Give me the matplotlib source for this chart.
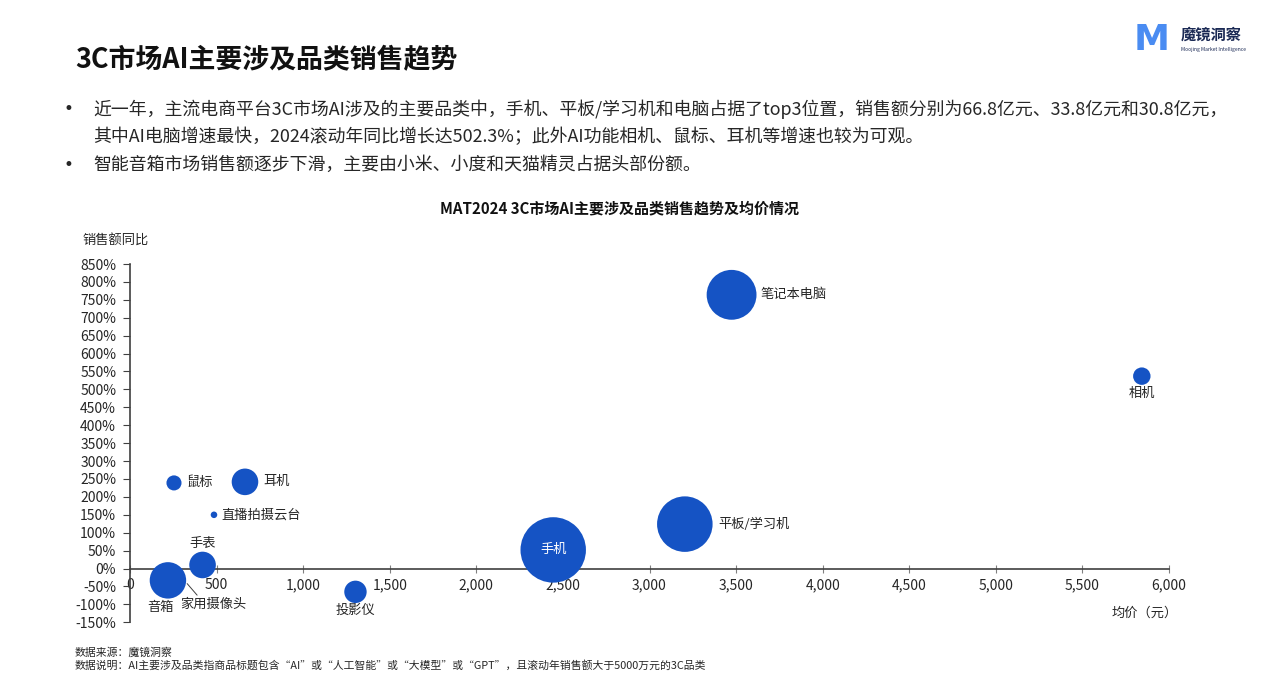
import matplotlib
matplotlib.use('Agg')
import matplotlib.pyplot as plt
from matplotlib.ticker import FuncFormatter, MultipleLocator

plt.rcParams['font.family'] = ['Noto Sans CJK SC', 'DejaVu Sans']
plt.rcParams['axes.unicode_minus'] = False

W, H = 1280, 681

# data
categories = ['笔记本电脑', '相机', '平板/学习机', '手机', '投影仪', '耳机',
              '鼠标', '直播拍摄云台', '手表', '家用摄像头', '音箱']
avg_price = [3474, 5843, 3204, 2444, 1302, 664, 254, 485, 419, 260, 219]
yoy_growth = [764, 537, 124, 52, -65, 242, 239, 150, 10, -30, -33]
bubble_size = [58, 7.1, 72, 100, 11.7, 16.5, 5.3, 1.0, 16.5, 6, 31]

# label placement: (dx, dy in points, ha, va)
label_pos = {
    '笔记本电脑': (21, 0, 'left', 'center'),
    '相机': (0, -8, 'center', 'top'),
    '平板/学习机': (24, 0, 'left', 'center'),
    '手机': (0, 0, 'center', 'center'),
    '投影仪': (0, -9, 'center', 'top'),
    '耳机': (13, 0, 'left', 'center'),
    '鼠标': (9, 0, 'left', 'center'),
    '直播拍摄云台': (5, 0, 'left', 'center'),
    '手表': (0, 11, 'center', 'bottom'),
    '音箱': (-5, -15, 'center', 'top'),
}

blue = '#1553C4'
dark = '#262626'

fig = plt.figure(figsize=(W / 100, H / 100), dpi=100)
fig.patch.set_facecolor('white')


def px(x, y):
    return x / W, 1 - y / H


# headline and bullets
fig.text(*px(75, 60), '3C市场AI主要涉及品类销售趋势', fontsize=19.4,
         fontweight='bold', color='#111111', va='center', ha='left')
bullets = [
    (109, '近一年，主流电商平台3C市场AI涉及的主要品类中，手机、平板/学习机和电脑占据了top3位置，销售额分别为66.8亿元、33.8亿元和30.8亿元，', True),
    (137, '其中AI电脑增速最快，2024滚动年同比增长达502.3%；此外AI功能相机、鼠标、耳机等增速也较为可观。', False),
    (165, '智能音箱市场销售额逐步下滑，主要由小米、小度和天猫精灵占据头部份额。', True),
]
for y, txt, dot in bullets:
    if dot:
        fig.text(*px(64, y), '•', fontsize=12, color=dark, va='center',
                 family='DejaVu Sans')
    fig.text(*px(93, y), txt, fontsize=12.9, color=dark, va='center')

# logo
fig.text(*px(1152, 40), 'M', fontsize=26, fontweight='bold', color='#4a8cf2',
         ha='center', va='center', family='DejaVu Sans')
fig.text(*px(1181, 35), '魔镜洞察', fontsize=11, fontweight='bold',
         color='#1b2a55', va='center')
fig.text(*px(1181, 50), 'Moojing Market Intelligence', fontsize=3.6,
         color='#1b2a55', va='center')

# chart title
fig.text(*px(620, 208), 'MAT2024 3C市场AI主要涉及品类销售趋势及均价情况',
         fontsize=10.8, fontweight='bold', color='#111111', ha='center', va='center')
fig.text(*px(82, 240), '销售额同比', fontsize=9.5, color=dark, va='center')
fig.text(*px(1145, 613), '均价（元）', fontsize=9.5, color=dark, va='center', ha='center')

# footer
fig.text(*px(75, 652), '数据来源：魔镜洞察', fontsize=7.8, color=dark, va='center')
fig.text(*px(75, 665), '数据说明：AI主要涉及品类指商品标题包含“AI”或“人工智能”或“大模型”或“GPT”，且滚动年销售额大于5000万元的3C品类',
         fontsize=7.8, color=dark, va='center')

ax = fig.add_axes([130 / W, 1 - 622.3 / H, (1169 - 130) / W, (622.3 - 264) / H])
ax.set_xlim(0, 6000)
ax.set_ylim(-150, 850)

k = 22.2
ax.scatter(avg_price, yoy_growth, s=[v * k for v in bubble_size],
           color=blue, edgecolors='none', zorder=3)

for name, x, y in zip(categories, avg_price, yoy_growth):
    if name not in label_pos:
        continue
    dx, dy, ha, va = label_pos[name]
    col = 'white' if name == '手机' else dark
    ax.annotate(name, (x, y), xytext=(dx, dy), textcoords='offset points',
                ha=ha, va=va, fontsize=9.5, color=col, zorder=4)

# leader label for 家用摄像头
i = categories.index('家用摄像头')
ax.annotate('家用摄像头', (avg_price[i] + 70, yoy_growth[i] - 12),
            xytext=(-5, -15), textcoords='offset points', ha='left', va='center',
            fontsize=9.5, color=dark, zorder=4,
            arrowprops=dict(arrowstyle='-', color='#404040', lw=0.7,
                            shrinkA=0, shrinkB=0, relpos=(0.3, 0.95)))

for s in ['top', 'right']:
    ax.spines[s].set_visible(False)
ax.spines['bottom'].set_position(('data', 0))
ax.spines['left'].set_position(('data', 0))
for s in ['bottom', 'left']:
    ax.spines[s].set_color('#404040')
    ax.spines[s].set_linewidth(1.2)

ax.xaxis.set_major_locator(MultipleLocator(500))
ax.yaxis.set_major_locator(MultipleLocator(50))
ax.xaxis.set_major_formatter(FuncFormatter(lambda v, p: '{:,.0f}'.format(v)))
ax.yaxis.set_major_formatter(FuncFormatter(lambda v, p: '{:.0f}%'.format(v)))
ax.tick_params(axis='x', direction='inout', length=6, width=0.8, color='#808080',
               labelsize=10, labelcolor=dark, pad=4)
ax.tick_params(axis='y', direction='out', length=5, width=0.8, color='#404040',
               labelsize=10, labelcolor=dark, pad=5)
ax.set_facecolor('none')

fig.savefig('out.png', dpi=100)
